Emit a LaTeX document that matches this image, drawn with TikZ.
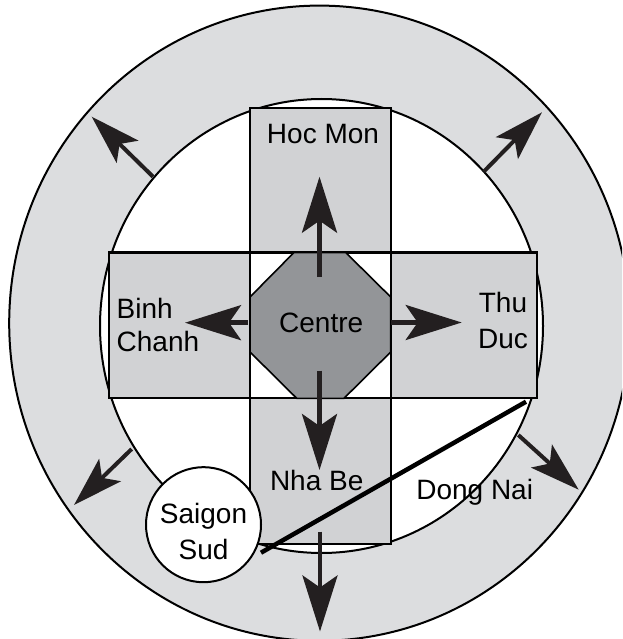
\documentclass[tikz,border=0pt]{standalone}
\usepackage{fontspec}
\setmainfont{Liberation Sans}
\usetikzlibrary{arrows.meta}
\definecolor{ringgray}{HTML}{DCDDDF}
\definecolor{boxgray}{HTML}{D1D2D4}
\definecolor{centgray}{HTML}{939598}
\definecolor{arr}{HTML}{231F20}
\tikzset{flow/.style = {draw=arr, line width=4.5pt, -{Stealth[length=56pt, width=35pt, inset=12pt]}}}
\tikzset{flowd/.style = {draw=arr, line width=4pt, -{Stealth[length=50pt, width=31pt, inset=11pt]}}}
\tikzset{lbl/.style = {inner sep=0, font=\fontsize{28}{33}\selectfont}}
\tikzset{every picture/.style={x=1pt, y=-1pt}}

\begin{document}
\begin{tikzpicture}
  \useasboundingbox (0,0) rectangle (622,639);
  \clip (0,0) rectangle (622,639);

  % outer ring and inner city
  \draw[fill=ringgray, line width=2pt] (319.5,323.2) ellipse [x radius=310.3pt, y radius=317.6pt];
  \draw[fill=white, line width=2pt] (321.5,326) ellipse [x radius=221.5pt, y radius=227pt];

  % districts
  \draw[fill=boxgray, line width=2.2pt] (250,107.7) rectangle (390.7,544.3);
  \draw[fill=boxgray, line width=2.2pt] (109,252.5) rectangle (536.7,398.3);
  \draw[fill=white, line width=2.2pt] (250,252.5) rectangle (390.7,398.3);
  \draw[fill=centgray, line width=1.6pt] (294,252.5) -- (345.7,252.5) -- (390.7,297) -- (390.7,352)
    -- (344,398.3) -- (296.7,398.3) -- (250,352) -- (250,297) -- cycle;

  \node[lbl, anchor=base] (hocmon) at (323,143.3) {Hoc Mon};
  \node[lbl, anchor=base] (centre) at (321.2,332.3) {Centre};
  \node[lbl, anchor=base] (nhabe) at (316.7,490.7) {Nha Be};
  \node[lbl, anchor=base] (dongnai) at (474.7,499.3) {Dong Nai};
  \node[lbl, align=left, anchor=west] (binh) at (116.5,325) {Binh\\Chanh};
  \node[lbl, align=center] (thuduc) at (503,320.2) {Thu\\[3pt]Duc};

  % arrows out of the centre
  \coordinate (c-n) at (319.5,277);   \coordinate (hm-tip) at (319.5,176.7);
  \coordinate (c-w) at (248,322.7);   \coordinate (bc-tip) at (185,322.7);
  \coordinate (c-e) at (390.7,322.5); \coordinate (td-tip) at (461.7,322.5);
  \coordinate (c-s) at (319.5,370.7); \coordinate (nb-tip) at (319.5,470);
  \draw[flow] (c-n) -- (hm-tip);
  \draw[flow] (c-w) -- (bc-tip);
  \draw[flow] (c-e) -- (td-tip);
  \draw[flow] (c-s) -- (nb-tip);

  % arrows out to the ring
  \coordinate (nb-s) at (320,531.7);   \coordinate (s-tip) at (320,631.5);
  \coordinate (r-nw) at (153,176.7);   \coordinate (nw-tip) at (91.7,116.7);
  \coordinate (r-ne) at (483.7,171.7); \coordinate (ne-tip) at (542,112.3);
  \coordinate (r-se) at (518.3,435);   \coordinate (se-tip) at (578.7,489.7);
  \coordinate (r-sw) at (131.7,449);   \coordinate (sw-tip) at (74,505);
  \draw[flow] (nb-s) -- (s-tip);
  \draw[flowd] (r-nw) -- (nw-tip);
  \draw[flowd] (r-ne) -- (ne-tip);
  \draw[flowd] (r-se) -- (se-tip);
  \draw[flowd] (r-sw) -- (sw-tip);

  % Saigon Sud and the Dong Nai line
  \node[draw, circle, fill=white, line width=2pt, minimum size=115pt, inner sep=0] (saigon) at (203.5,524.7) {};
  \node[lbl, align=center] (sgtext) at (203.5,531.5) {Saigon\\[3pt]Sud};
  \coordinate (dn-a) at (261,552.7);
  \coordinate (dn-b) at (526,401.7);
  \draw[line width=4.5pt] (dn-a) -- (dn-b);
\end{tikzpicture}
\end{document}
